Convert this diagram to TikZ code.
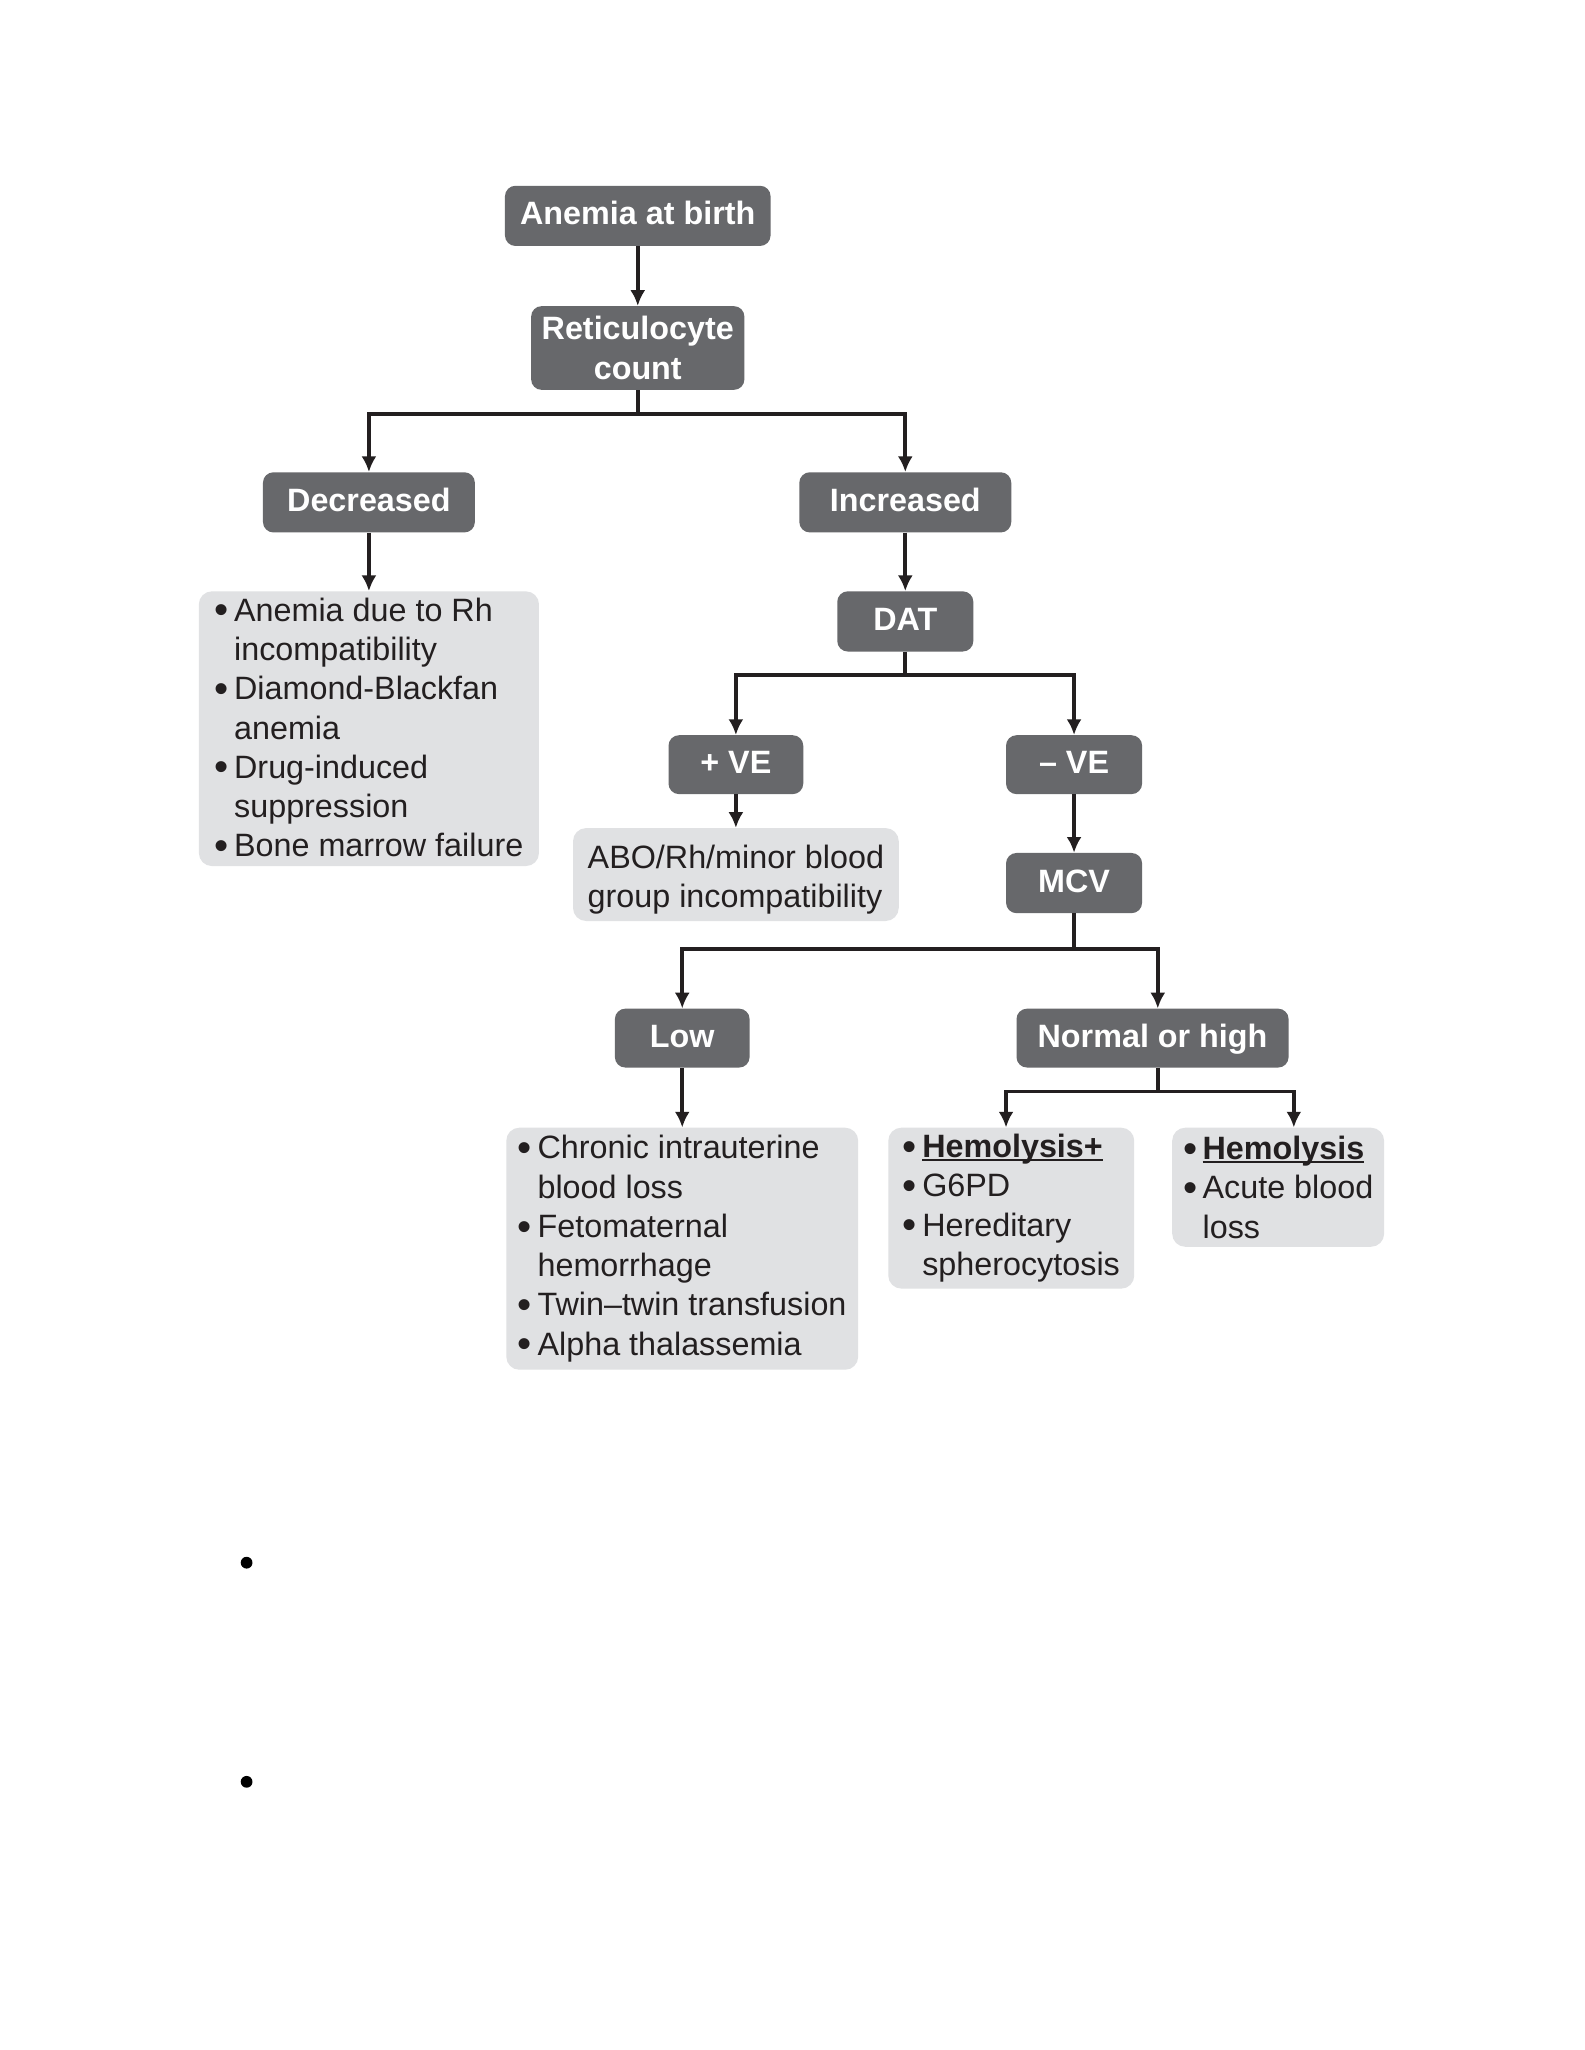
\documentclass[tikz,border=0pt]{standalone}
\usepackage{fontspec}
\setmainfont{Liberation Sans}
\usetikzlibrary{arrows.meta}
\definecolor{boxdark}{RGB}{103,104,107}
\definecolor{boxlight}{RGB}{224,225,227}
\definecolor{ink}{RGB}{35,31,32}
\newcommand{\bul}{\makebox[15pt][l]{\raisebox{-2pt}{\scalebox{1.25}{•}}}}
\newcommand{\ind}{\hspace*{15pt}}
\newcommand{\ulin}[1]{\setbox0\hbox{#1}\rlap{\rule[-2.6pt]{\wd0}{1.7pt}}\box0}

\begin{document}
\begin{tikzpicture}
			[x=1pt,y=-1pt,font=\fontsize{24.7}{30}\selectfont,
			dark/.style={rounded corners=8pt,fill=boxdark,text=white,font=\fontsize{24.7}{30}\selectfont\bfseries,align=center,minimum height=46pt,inner sep=0pt},
			tag/.style={dark,text height=18pt,text depth=4.2pt},
			light/.style={rounded corners=10pt,fill=boxlight,text=ink,align=left,inner sep=0pt},
			edge/.style={-{Latex[length=12pt,width=11.5pt]},line width=2.8pt,draw=ink}]
			\path[fill=white,use as bounding box] (0,0) rectangle (1211,1567);
			
			\node[tag,minimum width=203pt] (n0) at (487.5,165) {Anemia at birth};
			\node[dark,minimum width=163pt,minimum height=64pt] (n1) at (487.5,266) {Reticulocyte\\count};
			\node[tag,minimum width=162pt] (n2) at (282,384) {Decreased};
			\node[tag,minimum width=162pt] (n3) at (692,384) {Increased};
			\node[light,minimum width=260pt,minimum height=210pt] (n4) at (282,557)
				{\bul Anemia due to Rh\\ \ind incompatibility\\ \bul Diamond-Blackfan\\ \ind anemia\\ \bul Drug-induced\\ \ind suppression\\ \bul Bone marrow failure};
			\node[tag,minimum width=104pt] (n5) at (692,475) {DAT};
			\node[tag,minimum width=103pt,minimum height=45pt] (n6) at (562.5,584.5) {+ VE};
			\node[tag,minimum width=104pt,minimum height=45pt] (n7) at (821,584.5) {– VE};
			\node[light,minimum width=249pt,minimum height=71pt] (n8) at (562.5,668.5) {\rule{0pt}{26pt}ABO/Rh/minor blood\\group incompatibility};
			\node[tag,minimum width=104pt] (n9) at (821,675) {MCV};
			\node[tag,minimum width=103pt,minimum height=45pt] (n10) at (521.5,793.5) {Low};
			\node[tag,minimum width=208pt,minimum height=45pt] (n11) at (881,793.5) {Normal or high};
			\node[light,minimum width=269pt,minimum height=185pt] (n12) at (521.5,954.5)
				{\bul Chronic intrauterine\\ \ind blood loss\\ \bul Fetomaternal\\ \ind hemorrhage\\ \bul Twin–twin transfusion\\ \bul Alpha thalassemia};
			\node[light,minimum width=188pt,minimum height=123pt] (n13) at (773,923.5)
				{\bul\ulin{\textbf{Hemolysis+}}\\ \bul G6PD\\ \bul Hereditary\\ \ind spherocytosis};
			\node[light,minimum width=162pt,minimum height=91pt] (n14) at (977,907.5)
				{\bul\ulin{\textbf{Hemolysis}}\\ \bul Acute blood\\ \ind loss};
			
			\draw[edge] (n0) -- (n1);
			\draw[edge] (n1.south) -- ++(0,18) -| (n2.north);
			\draw[edge] (n1.south) -- ++(0,18) -| (n3.north);
			\draw[edge] (n2) -- (n4);
			\draw[edge] (n3) -- (n5);
			\draw[edge] (n5.south) -- ++(0,18) -| (n6.north);
			\draw[edge] (n5.south) -- ++(0,18) -| (n7.north);
			\draw[edge] (n6) -- (n8);
			\draw[edge] (n7) -- (n9);
			\draw[edge] (n9.south) -- ++(0,27) -| (n10.north);
			\draw[edge] (n9.south) -- ++(0,27) -| ([xshift=4pt]n11.north);
			\draw[edge] (n10) -- (n12);
			\draw[edge] ([xshift=4pt]n11.south) -- ++(0,18) -| ([xshift=-4pt]n13.north);
			\draw[edge] ([xshift=4pt]n11.south) -- ++(0,18) -| ([xshift=12pt]n14.north);
			
			\fill[black] (188.5,1194.5) circle (4.5pt);
			\fill[black] (188.5,1362) circle (4.5pt);
			\end{tikzpicture}
\end{document}
